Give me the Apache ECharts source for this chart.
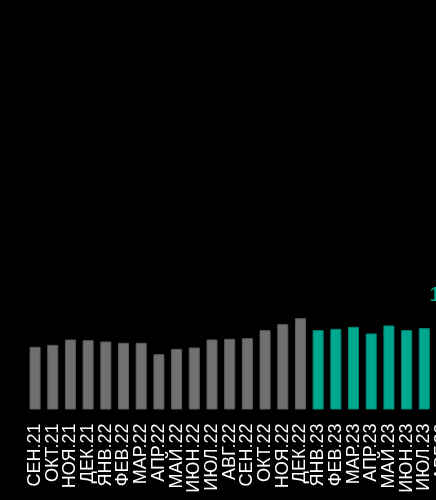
<!DOCTYPE html>
<html>
<head>
<meta charset="utf-8">
<script src="https://cdn.jsdelivr.net/npm/echarts@6/dist/echarts.min.js"></script>
<style>
html,body{margin:0;padding:0;background:#000;overflow:hidden;width:436px;height:500px;}
#chart{width:451px;height:500px;}
</style>
</head>
<body>
<div id="chart"></div>
<script>
const categories = ['СЕН.21','ОКТ.21','НОЯ.21','ДЕК.21','ЯНВ.22','ФЕВ.22','МАР.22','АПР.22','МАЙ.22','ИЮН.22','ИЮЛ.22','АВГ.22','СЕН.22','ОКТ.22','НОЯ.22','ДЕК.22','ЯНВ.23','ФЕВ.23','МАР.23','АПР.23','МАЙ.23','ИЮН.23','ИЮЛ.23','АВГ.23'];
const values = [94,97,105,104,102,100,100,83,91,93,105,106,107,119,128,137,119,121,124,114,126,119,122,137];
const labelledCategory = 'АВГ.23';

const GRAY = '#707070', GRAY_B = '#5c5c5c';
const TEAL = '#00a88f', TEAL_B = '#008a76';

const chart = echarts.init(document.getElementById('chart'), null, {renderer:'canvas'});
chart.setOption({
  backgroundColor: '#000',
  animation: false,
  grid: {left: 26.2, right: 0, top: 9.5, bottom: 90.5, containLabel: false},
  xAxis: {
    type: 'category',
    data: categories,
    axisLine: {show: false},
    axisTick: {show: false},
    axisLabel: {
      rotate: 90, color: '#ffffff', fontSize: 18, margin: 14, interval: 0,
      fontFamily: '"Liberation Sans", Arial, sans-serif'
    }
  },
  yAxis: {
    type: 'value', min: 0, max: 600, show: false,
    splitLine: {show: false}
  },
  series: [{
    type: 'bar',
    barWidth: 11,
    data: values.map((v, i) => {
      const teal = categories[i].endsWith('.23');
      return {
        value: v,
        itemStyle: {
          color: teal ? TEAL : GRAY,
          borderColor: teal ? TEAL_B : GRAY_B,
          borderWidth: 1
        },
        label: {
          show: categories[i] === labelledCategory,
          position: 'top', distance: 13, offset: [4, 0],
          color: TEAL, fontSize: 20, fontWeight: 'normal',
          fontFamily: '"Liberation Sans", Arial, sans-serif'
        }
      };
    })
  }]
});
</script>
</body>
</html>
